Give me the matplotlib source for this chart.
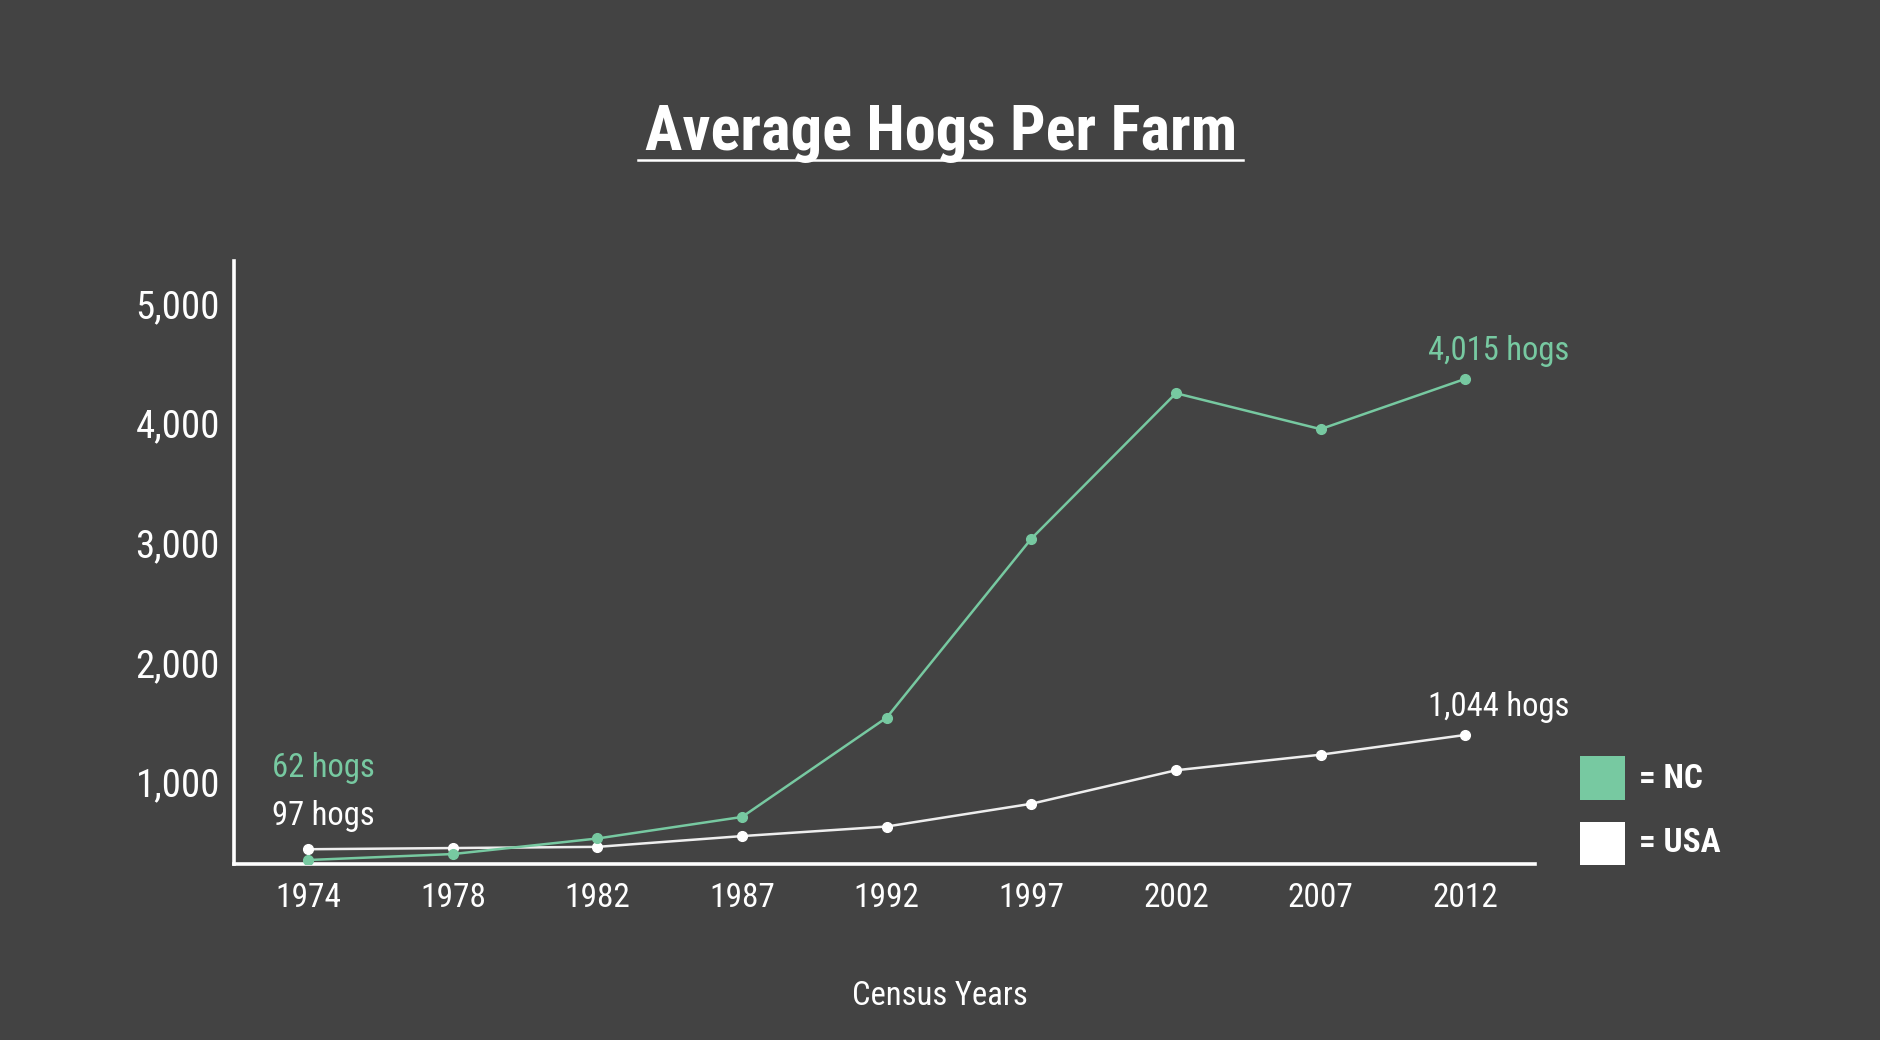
import matplotlib

matplotlib.use('Agg')

import matplotlib.pyplot as plt
from matplotlib.patches import Rectangle
from matplotlib.lines import Line2D

years = ['1974', '1978', '1982', '1987', '1992', '1997', '2002', '2007', '2012']
nc_hogs = [350, 400, 530, 710, 1540, 3035, 4250, 3950, 4370]
usa_hogs = [440, 450, 460, 550, 630, 820, 1100, 1230, 1395]
ytick_vals = [1000, 2000, 3000, 4000, 5000]
ytick_labels = ['1,000', '2,000', '3,000', '4,000', '5,000']

BG = '#434343'
GREEN = '#77c9a1'
WHITE = '#ffffff'
plt.rcParams['font.family'] = ['Roboto Condensed', 'Roboto', 'DejaVu Sans']

fig = plt.figure(figsize=(18.8, 10.4), dpi=100, facecolor=BG)
ax = fig.add_axes([0.1244, 0.1696, 0.8163 - 0.1244, 0.7486 - 0.1696])
ax.set_facecolor(BG)

x = list(range(len(years)))
ax.plot(x, usa_hogs, color='#eeeeee', lw=1.8, marker='o', ms=7, mfc=WHITE, mec=WHITE, zorder=3)
ax.plot(x, nc_hogs, color=GREEN, lw=1.8, marker='o', ms=7, mfc=GREEN, mec=GREEN, zorder=4)

ax.set_xlim(-0.514, 8.48)
ax.set_ylim(320, 5351)
ax.set_xticks(x)
ax.set_xticklabels(years, fontsize=24)
ax.set_yticks(ytick_vals)
ax.set_yticklabels(ytick_labels, fontsize=28)
ax.tick_params(length=0, colors=WHITE)
ax.tick_params(axis='x', pad=13)
ax.tick_params(axis='y', pad=10)
for side in ['top', 'right']:
    ax.spines[side].set_visible(False)
for side in ['left', 'bottom']:
    ax.spines[side].set_color(WHITE)
    ax.spines[side].set_linewidth(2.6)

# point labels
ax.annotate('4,015 hogs', xy=(8, nc_hogs[-1]), xytext=(24, 20), textcoords='offset points',
            ha='center', va='center', color=GREEN, fontsize=23.5)
ax.annotate('1,044 hogs', xy=(8, usa_hogs[-1]), xytext=(24, 20), textcoords='offset points',
            ha='center', va='center', color=WHITE, fontsize=23.5)
fig.text(0.1448, 0.2618, '62 hogs', ha='left', va='center', color=GREEN, fontsize=23.5)
fig.text(0.1448, 0.2157, '97 hogs', ha='left', va='center', color=WHITE, fontsize=23.5)

# title with underline
fig.text(0.5006, 0.8725, 'Average Hogs Per Farm', ha='center', va='center', color=WHITE,
         fontsize=45, fontweight='bold')
fig.add_artist(Line2D([532 / 1568, 1037 / 1568], [0.8466, 0.8466], color=WHITE, lw=1.8))

fig.text(0.5, 0.0427, 'Census Years', ha='center', va='center', color=WHITE, fontsize=23.5)

# legend
fig.add_artist(Rectangle((0.8406, 0.2307), 0.0236, 0.0427, transform=fig.transFigure,
                         facecolor=GREEN, edgecolor='none'))
fig.add_artist(Rectangle((0.8406, 0.1684), 0.0236, 0.0415, transform=fig.transFigure,
                         facecolor=WHITE, edgecolor='none'))
fig.text(0.8718, 0.2514, '= NC', ha='left', va='center', color=WHITE, fontsize=24, fontweight='bold')
fig.text(0.8718, 0.1892, '= USA', ha='left', va='center', color=WHITE, fontsize=24, fontweight='bold')

fig.savefig('out.png', dpi=100, facecolor=BG)
